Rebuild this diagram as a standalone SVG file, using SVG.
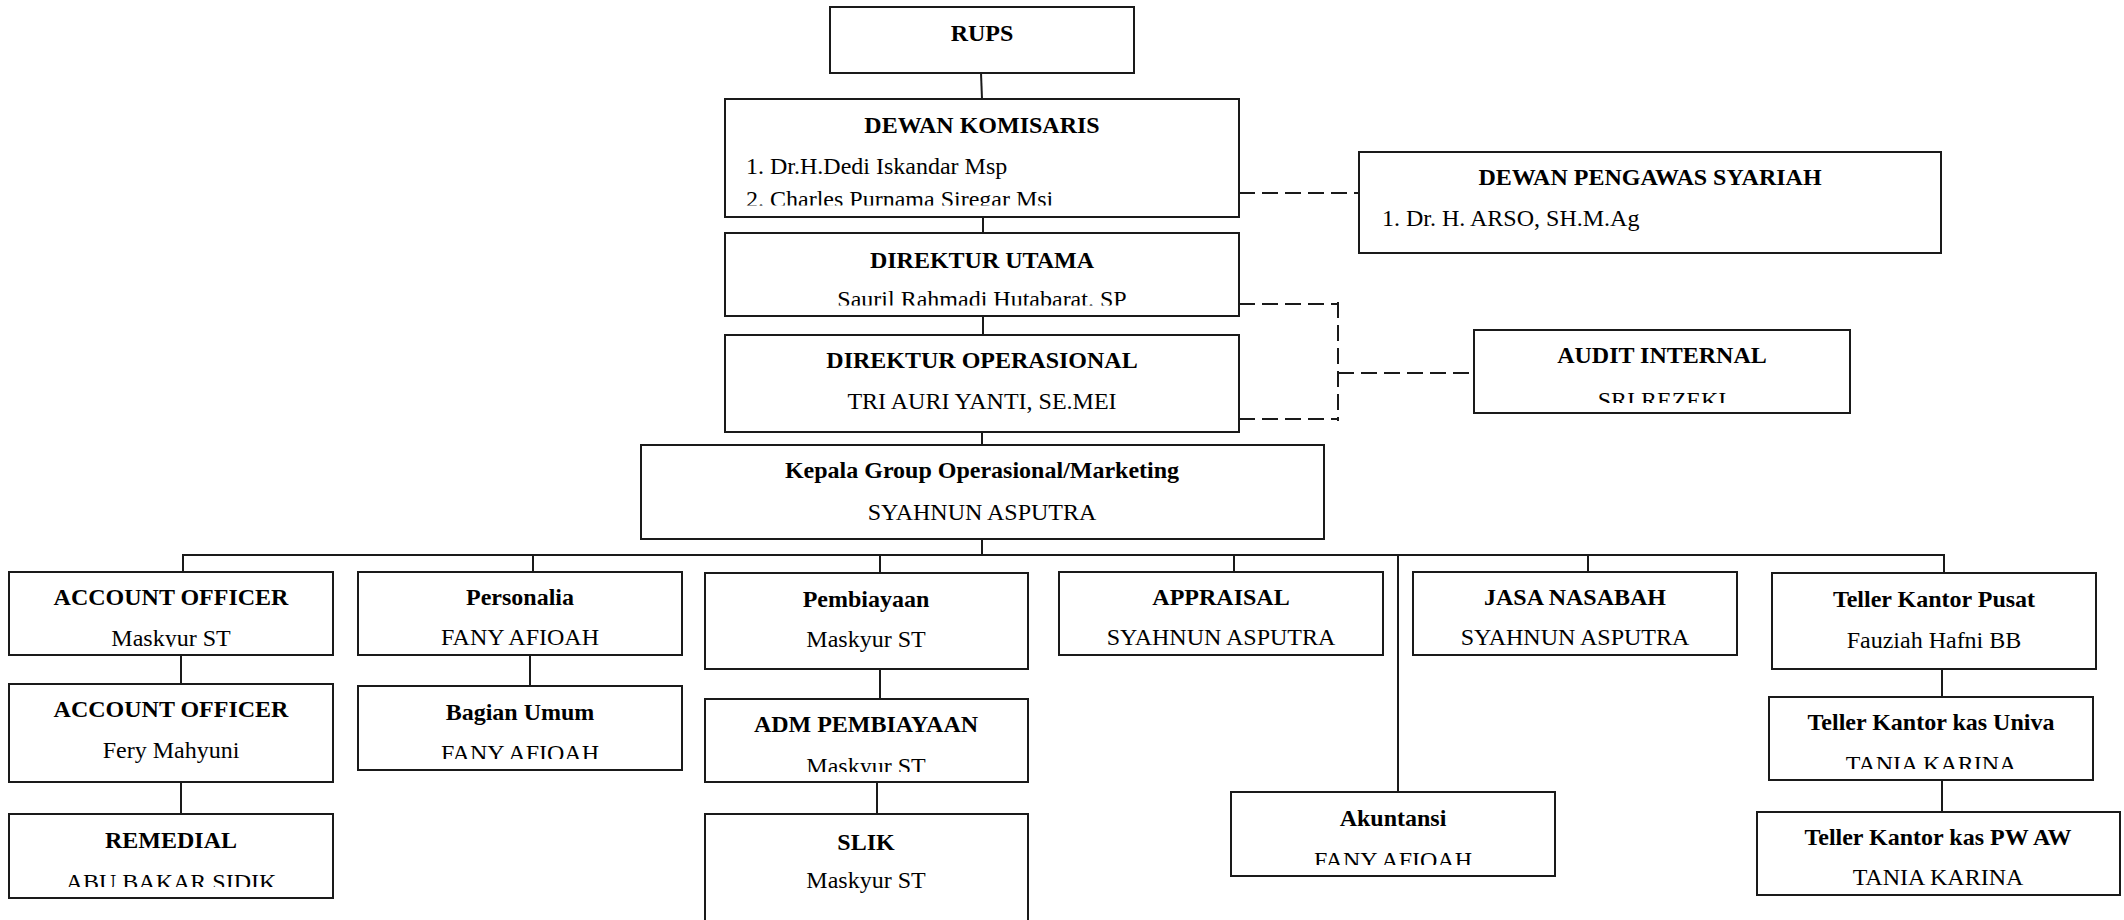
<svg xmlns="http://www.w3.org/2000/svg" width="2124" height="920" viewBox="0 0 2124 920">
<style>
.box{fill:#fff;stroke:#1a1a1a;stroke-width:2}
.t{font-family:"Liberation Serif","Times New Roman",serif;font-size:24px;fill:#000;text-anchor:middle}
.b{font-weight:bold}
.l{text-anchor:start}
.ln{stroke:#1a1a1a;stroke-width:2;fill:none}
.dash{stroke:#1a1a1a;stroke-width:2;fill:none;stroke-dasharray:16 7}
</style>
<defs>
<clipPath id="cDK" clipPathUnits="userSpaceOnUse"><rect x="725" y="99" width="514" height="106.5"/></clipPath>
<clipPath id="cDU" clipPathUnits="userSpaceOnUse"><rect x="725" y="233" width="514" height="72.5"/></clipPath>
<clipPath id="cAI" clipPathUnits="userSpaceOnUse"><rect x="1474" y="330" width="376" height="73"/></clipPath>
<clipPath id="cAO1" clipPathUnits="userSpaceOnUse"><rect x="9" y="572" width="324" height="75"/></clipPath>
<clipPath id="cREM" clipPathUnits="userSpaceOnUse"><rect x="9" y="814" width="324" height="73"/></clipPath>
<clipPath id="cBU" clipPathUnits="userSpaceOnUse"><rect x="358" y="686" width="324" height="73"/></clipPath>
<clipPath id="cADM" clipPathUnits="userSpaceOnUse"><rect x="705" y="699" width="323" height="73"/></clipPath>
<clipPath id="cAK" clipPathUnits="userSpaceOnUse"><rect x="1231" y="792" width="324" height="73"/></clipPath>
<clipPath id="cUV" clipPathUnits="userSpaceOnUse"><rect x="1769" y="697" width="324" height="72"/></clipPath>
</defs>

<g id="connectors">
<line class="ln" x1="981" y1="73" x2="982" y2="99"/>
<line class="ln" x1="983" y1="217" x2="983" y2="233"/>
<line class="ln" x1="983" y1="316" x2="983" y2="335"/>
<line class="ln" x1="982" y1="432" x2="982" y2="445"/>
<line class="ln" x1="982" y1="539" x2="982" y2="555"/>
<line class="ln" x1="182" y1="555" x2="1945" y2="555"/>
<line class="ln" x1="183" y1="555" x2="183" y2="572"/>
<line class="ln" x1="533" y1="555" x2="533" y2="572"/>
<line class="ln" x1="880" y1="555" x2="880" y2="573"/>
<line class="ln" x1="1234" y1="555" x2="1234" y2="572"/>
<line class="ln" x1="1398" y1="555" x2="1398" y2="792"/>
<line class="ln" x1="1588" y1="555" x2="1588" y2="572"/>
<line class="ln" x1="1944" y1="555" x2="1944" y2="573"/>
<line class="ln" x1="181" y1="655" x2="181" y2="684"/>
<line class="ln" x1="181" y1="782" x2="181" y2="814"/>
<line class="ln" x1="530" y1="655" x2="530" y2="686"/>
<line class="ln" x1="880" y1="669" x2="880" y2="699"/>
<line class="ln" x1="877" y1="782" x2="877" y2="814"/>
<line class="ln" x1="1942" y1="669" x2="1942" y2="697"/>
<line class="ln" x1="1942" y1="780" x2="1942" y2="812"/>
<line class="dash" x1="1239" y1="193" x2="1359" y2="193"/>
<line class="dash" x1="1239" y1="304" x2="1338" y2="304"/>
<line class="dash" x1="1239" y1="419" x2="1338" y2="419"/>
<line class="dash" x1="1338" y1="302" x2="1338" y2="421"/>
<line class="dash" x1="1338" y1="373" x2="1474" y2="373"/>
</g>

<g id="rups">
<rect class="box" x="830" y="7" width="304" height="66"/>
<text class="t b" x="982" y="41">RUPS</text>
</g>

<g id="dewan-komisaris">
<rect class="box" x="725" y="99" width="514" height="118"/>
<text class="t b" x="982" y="133">DEWAN KOMISARIS</text>
<g clip-path="url(#cDK)">
<text class="t l" x="746" y="174">1. Dr.H.Dedi Iskandar Msp</text>
<text class="t l" x="746" y="207">2. Charles Purnama Siregar Msi</text>
</g>
</g>

<g id="dewan-pengawas-syariah">
<rect class="box" x="1359" y="152" width="582" height="101"/>
<text class="t b" x="1650" y="185">DEWAN PENGAWAS SYARIAH</text>
<text class="t l" x="1382" y="226">1. Dr. H. ARSO, SH.M.Ag</text>
</g>

<g id="direktur-utama">
<rect class="box" x="725" y="233" width="514" height="83"/>
<text class="t b" x="982" y="268">DIREKTUR UTAMA</text>
<text class="t" x="982" y="307" clip-path="url(#cDU)">Sauril Rahmadi Hutabarat. SP</text>
</g>

<g id="direktur-operasional">
<rect class="box" x="725" y="335" width="514" height="97"/>
<text class="t b" x="982" y="368">DIREKTUR OPERASIONAL</text>
<text class="t" x="982" y="409">TRI AURI YANTI, SE.MEI</text>
</g>

<g id="audit-internal">
<rect class="box" x="1474" y="330" width="376" height="83"/>
<text class="t b" x="1662" y="363">AUDIT INTERNAL</text>
<text class="t" x="1662" y="408" clip-path="url(#cAI)">SRI REZEKI</text>
</g>

<g id="kepala-group">
<rect class="box" x="641" y="445" width="683" height="94"/>
<text class="t b" x="982" y="478">Kepala Group Operasional/Marketing</text>
<text class="t" x="982" y="520">SYAHNUN ASPUTRA</text>
</g>

<g id="account-officer-1">
<rect class="box" x="9" y="572" width="324" height="83"/>
<text class="t b" x="171" y="605">ACCOUNT OFFICER</text>
<text class="t" x="171" y="646" clip-path="url(#cAO1)">Maskyur ST</text>
</g>

<g id="account-officer-2">
<rect class="box" x="9" y="684" width="324" height="98"/>
<text class="t b" x="171" y="717">ACCOUNT OFFICER</text>
<text class="t" x="171" y="758">Fery Mahyuni</text>
</g>

<g id="remedial">
<rect class="box" x="9" y="814" width="324" height="84"/>
<text class="t b" x="171" y="848">REMEDIAL</text>
<text class="t" x="171" y="890" clip-path="url(#cREM)">ABU BAKAR SIDIK</text>
</g>

<g id="personalia">
<rect class="box" x="358" y="572" width="324" height="83"/>
<text class="t b" x="520" y="605">Personalia</text>
<text class="t" x="520" y="645">FANY AFIOAH</text>
</g>

<g id="bagian-umum">
<rect class="box" x="358" y="686" width="324" height="84"/>
<text class="t b" x="520" y="720">Bagian Umum</text>
<text class="t" x="520" y="761" clip-path="url(#cBU)">FANY AFIOAH</text>
</g>

<g id="pembiayaan">
<rect class="box" x="705" y="573" width="323" height="96"/>
<text class="t b" x="866" y="607">Pembiayaan</text>
<text class="t" x="866" y="647">Maskyur ST</text>
</g>

<g id="adm-pembiayaan">
<rect class="box" x="705" y="699" width="323" height="83"/>
<text class="t b" x="866" y="732">ADM PEMBIAYAAN</text>
<text class="t" x="866" y="774" clip-path="url(#cADM)">Maskyur ST</text>
</g>

<g id="slik">
<rect class="box" x="705" y="814" width="323" height="120"/>
<text class="t b" x="866" y="850">SLIK</text>
<text class="t" x="866" y="888">Maskyur ST</text>
</g>

<g id="appraisal">
<rect class="box" x="1059" y="572" width="324" height="83"/>
<text class="t b" x="1221" y="605">APPRAISAL</text>
<text class="t" x="1221" y="645">SYAHNUN ASPUTRA</text>
</g>

<g id="akuntansi">
<rect class="box" x="1231" y="792" width="324" height="84"/>
<text class="t b" x="1393" y="826">Akuntansi</text>
<text class="t" x="1393" y="868" clip-path="url(#cAK)">FANY AFIOAH</text>
</g>

<g id="jasa-nasabah">
<rect class="box" x="1413" y="572" width="324" height="83"/>
<text class="t b" x="1575" y="605">JASA NASABAH</text>
<text class="t" x="1575" y="645">SYAHNUN ASPUTRA</text>
</g>

<g id="teller-kantor-pusat">
<rect class="box" x="1772" y="573" width="324" height="96"/>
<text class="t b" x="1934" y="607">Teller Kantor Pusat</text>
<text class="t" x="1934" y="648">Fauziah Hafni BB</text>
</g>

<g id="teller-kantor-kas-univa">
<rect class="box" x="1769" y="697" width="324" height="83"/>
<text class="t b" x="1931" y="730">Teller Kantor kas Univa</text>
<text class="t" x="1931" y="772" clip-path="url(#cUV)">TANIA KARINA</text>
</g>

<g id="teller-kantor-kas-pw-aw">
<rect class="box" x="1757" y="812" width="363" height="83"/>
<text class="t b" x="1938" y="845">Teller Kantor kas PW AW</text>
<text class="t" x="1938" y="885">TANIA KARINA</text>
</g>
</svg>
